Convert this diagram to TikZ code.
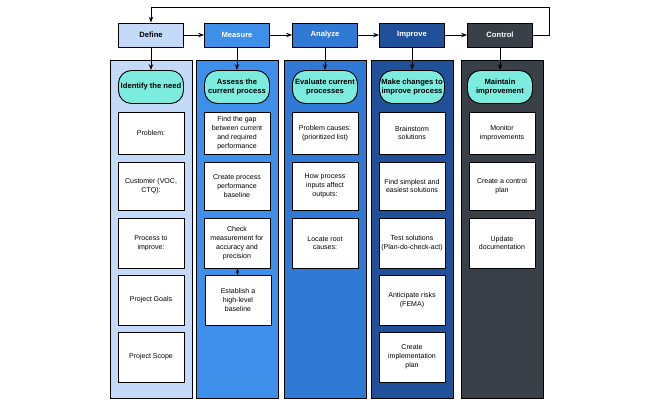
\documentclass[tikz,border=0pt]{standalone}
\usepackage{fontspec}
\setmainfont{Liberation Sans}
\usetikzlibrary{arrows.meta}
\definecolor{defc}{HTML}{C3DBF8}
\definecolor{meac}{HTML}{3D8FEA}
\definecolor{anac}{HTML}{3079D4}
\definecolor{impc}{HTML}{21509A}
\definecolor{conc}{HTML}{3A4048}
\definecolor{pillc}{HTML}{7CECDF}
\tikzset{
  head/.style={draw, thick, minimum width=65*0.03cm, minimum height=24*0.03cm, font=\fontsize{6.5}{7}\selectfont\bfseries},
  col/.style={draw, thick},
  pill/.style={draw, thick, fill=pillc, rounded corners=13*0.03cm, minimum width=65*0.03cm, minimum height=33*0.03cm, align=center, font=\fontsize{6.5}{7.5}\selectfont\bfseries, inner sep=1pt},
  task/.style={draw, thick, fill=white, minimum width=66*0.03cm, align=center, font=\fontsize{6}{7.5}\selectfont, inner sep=1pt},
  flow/.style={-{Stealth[length=5pt]}, thick}
}
\begin{document}
\begin{tikzpicture}[x=0.03cm, y=-0.03cm]
\useasboundingbox (0,0) rectangle (650,406);
% columns
\draw[col, fill=defc] (110,60) rectangle (192,398);
\draw[col, fill=meac] (196,60) rectangle (278,398);
\draw[col, fill=anac] (284,60) rectangle (366,398);
\draw[col, fill=impc] (371,60) rectangle (453,398);
\draw[col, fill=conc] (461,60) rectangle (543,398);

% header boxes
\node[head, fill=defc] (define) at (151,35) {Define};
\node[head, fill=meac, text=white] (measure) at (237,35) {Measure};
\node[head, fill=anac, text=white] (analyze) at (325,35) {Analyze};
\node[head, fill=impc, text=white] (improve) at (412,35) {Improve};
\node[head, fill=conc, text=white] (control) at (500,35) {Control};

\draw[flow] (define) -- (measure);
\draw[flow] (measure) -- (analyze);
\draw[flow] (analyze) -- (improve);
\draw[flow] (improve) -- (control);
\draw[flow] (control.east) -- ++(16,0) |- (151,7) -- (define.north);

% goals
\node[pill] (needD) at (151,87) {Identify the need};
\node[pill] (needM) at (237,87) {Assess the\\current process};
\node[pill] (needA) at (325,87) {Evaluate current\\processes};
\node[pill] (needI) at (412,87) {Make changes to\\improve process};
\node[pill] (needC) at (500,87) {Maintain\\improvement};

\draw[flow] (define) -- (needD);
\draw[flow] (measure) -- (needM);
\draw[flow] (analyze) -- (needA);
\draw[flow] (improve) -- (needI);
\draw[flow] (control) -- (needC);

% Define tasks
\node[task, minimum height=42*0.03cm] (d1) at (151,133) {Problem:};
\node[task, minimum height=48*0.03cm] (d2) at (151,186) {Customer (VOC,\\CTQ):};
\node[task, minimum height=50*0.03cm] (d3) at (151,243) {Process to\\improve:};
\node[task, minimum height=50*0.03cm] (d4) at (151,300) {Project Goals};
\node[task, minimum height=50*0.03cm] (d5) at (151,357) {Project Scope};

% Measure tasks
\node[task, minimum height=42*0.03cm] (m1) at (237,133) {Find the gap\\between current\\and required\\performance};
\node[task, minimum height=48*0.03cm] (m2) at (237,186) {Create process\\performance\\baseline};
\node[task, minimum height=50*0.03cm] (m3) at (237,243) {Check\\measurement for\\accuracy and\\precision};
\node[task, minimum height=50*0.03cm] (m4) at (238,300) {Establish a\\high-level\\baseline};
\draw[-{Stealth[length=4pt]}, thick] (m4) -- (m3);

% Analyze tasks
\node[task, minimum height=42*0.03cm] (a1) at (325,133) {Problem causes:\\(prioritized list)};
\node[task, minimum height=48*0.03cm] (a2) at (325,186) {How process\\inputs affect\\outputs:};
\node[task, minimum height=50*0.03cm] (a3) at (325,243) {Locate root\\causes:};

% Improve tasks
\node[task, minimum height=42*0.03cm] (i1) at (412,133) {Brainstorm\\solutions};
\node[task, minimum height=48*0.03cm] (i2) at (412,186) {Find simplest and\\easiest solutions};
\node[task, minimum height=50*0.03cm] (i3) at (412,243) {Test solutions\\(Plan-do-check-act)};
\node[task, minimum height=50*0.03cm] (i4) at (412,300) {Anticipate risks\\(FEMA)};
\node[task, minimum height=50*0.03cm] (i5) at (412,357) {Create\\implementation\\plan};

% Control tasks
\node[task, minimum height=42*0.03cm] (c1) at (502,133) {Monitor\\improvements};
\node[task, minimum height=48*0.03cm] (c2) at (502,186) {Create a control\\plan};
\node[task, minimum height=50*0.03cm] (c3) at (502,243) {Update\\documentation};
\end{tikzpicture}
\end{document}
